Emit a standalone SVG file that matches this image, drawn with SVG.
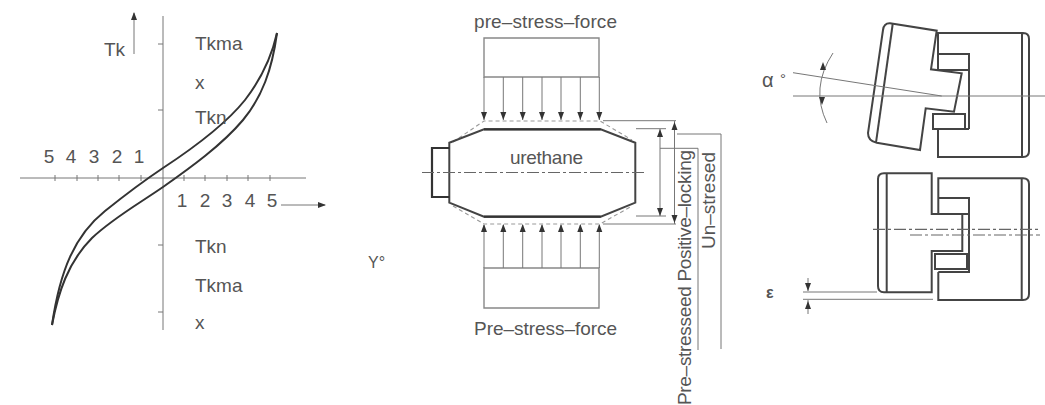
<svg xmlns="http://www.w3.org/2000/svg" width="1045" height="405" viewBox="0 0 1045 405">
<style>
text{font-family:"Liberation Sans",Arial,sans-serif;fill:#555;font-size:19px}
.thin{fill:none;stroke:#777;stroke-width:1}
.mid{fill:none;stroke:#888;stroke-width:1.4}
.curve{fill:none;stroke:#333;stroke-width:2}
.thick{fill:none;stroke:#333;stroke-width:2.2}
.body{fill:none;stroke:#444;stroke-width:2}
.dash{fill:none;stroke:#999;stroke-width:1.1;stroke-dasharray:4 3}
.cl{fill:none;stroke:#666;stroke-width:1.2;stroke-dasharray:12 3 3 3}
.arr{fill:#333;stroke:none}
</style>
<defs>
<marker id="a" markerWidth="8" markerHeight="6" refX="7" refY="3" orient="auto" markerUnits="userSpaceOnUse"><path d="M0 0L8 3L0 6Z" class="arr"/></marker>
</defs>
<g id="chart">
<path class="thin" d="M163 16V330M20 178H306"/>
<path class="thin" d="M158 44H163M158 110H163M158 245H163M158 312H163M55 175V181M77 175V181M98 175V181M119 175V181M141 175V181M184 175V181M205 175V181M227 175V181M248 175V181M270 175V181"/>
<path class="curve" d="M52 325C60 270 75 235 105 211C125 195 145 180 163 168C195 147 225 125 245 100C262 78 272 55 277 33"/>
<path class="curve" d="M52 325C58 293 68 262 92 238C113 218 140 203 163 187C190 168 222 145 243 120C262 97 272 70 277 33"/>
<path class="thin" d="M134 54V13" marker-end="url(#a)"/>
<path class="thin" d="M281 205H325" marker-end="url(#a)"/>
<text x="104" y="56">Tk</text>
<text x="195" y="50">Tkma</text>
<text x="195" y="89">x</text>
<text x="195" y="124">Tkn</text>
<text x="195" y="253">Tkn</text>
<text x="195" y="292">Tkma</text>
<text x="195" y="329">x</text>
<text x="49" y="163" text-anchor="middle">5</text><text x="71" y="163" text-anchor="middle">4</text><text x="94" y="163" text-anchor="middle">3</text><text x="117" y="163" text-anchor="middle">2</text><text x="139" y="163" text-anchor="middle">1</text>
<text x="182" y="207" text-anchor="middle">1</text><text x="205" y="207" text-anchor="middle">2</text><text x="227" y="207" text-anchor="middle">3</text><text x="250" y="207" text-anchor="middle">4</text><text x="272" y="207" text-anchor="middle">5</text>
<text x="368" y="268" style="font-size:16px">Y°</text>
</g>
<g id="urethane">
<path class="mid" d="M484 38H599V77H484ZM484 268H599V308H484Z"/>
<path class="thin" d="M484 77V120M503.3 77V120M522.7 77V120M542 77V120M561 77V120M580.3 77V120M599.3 77V120"/>
<path class="thin" d="M484 268V225M503.3 268V225M522.7 268V225M542 268V225M561 268V225M580.3 268V225M599.3 268V225"/>
<path class="arr" d="M481 112H487L484 120ZM500.3 112H506.3L503.3 120ZM519.7 112H525.7L522.7 120ZM539 112H545L542 120ZM558 112H564L561 120ZM577.3 112H583.3L580.3 120ZM596.3 112H602.3L599.3 120Z"/>
<path class="arr" d="M481 232H487L484 224ZM500.3 232H506.3L503.3 224ZM519.7 232H525.7L522.7 224ZM539 232H545L542 224ZM558 232H564L561 224ZM577.3 232H583.3L580.3 224ZM596.3 232H602.3L599.3 224Z"/>
<path class="dash" d="M453 142L484 121H600L632 140M453 206L484 224H600L632 206"/>
<path class="body" d="M449.3 142.7L484 129.3H600.7L635.3 142.7V202.7L600.7 216.7H484L449.3 202.7Z"/>
<path class="thick" d="M484 129.3H600.7M484 216.7H600.7"/>
<path class="thick" d="M449.3 148H432V197H449.3"/>
<path class="cl" d="M422 172.5H645"/>
<path class="thin" d="M603 120.7H676M603 224H676M674.5 121V224M636 128.7H666M636 216H666M660 129V216M660 148.3H698V350M677 134H721V349"/>
<path class="arr" d="M671.5 130L674.5 122L677.5 130ZM671.5 215L674.5 223L677.5 215ZM657 137L660 129L663 137ZM657 208L660 216L663 208Z"/>
<text x="474" y="28" textLength="143">pre–stress–force</text>
<text x="474" y="335" textLength="143">Pre–stress–force</text>
<text x="510" y="164" textLength="73">urethane</text>
<text transform="translate(691 405) rotate(-90)" textLength="255">Pre–stresseed Positive–locking</text>
<text transform="translate(715 249) rotate(-90)" textLength="97">Un–stresed</text>
</g>
<g id="coupling-tilted">
<path class="body" d="M938 54V33H1023Q1029 33 1029 39V151Q1029 157 1023 157H938V129M1022 33V157"/>
<path class="body" d="M938 54H969V129M938 54V70H969"/>
<path class="body" d="M933 114H965V129H933ZM965 129H969"/>
<path class="body" d="M890 23.3L936.7 30.7L931 69.3L961.7 73.3L954 111.7L925.7 108.3L920 150L876.7 142.7Q868 141 868 133L883 30Q884 23 890 23.3Z"/>
<path class="body" d="M892.7 24L876 142.7"/>
<path class="thin" d="M793 96H1045M793 72.7L941.7 96"/>
<path class="thin" d="M833 53Q810 88 827 123"/>
<path class="arr" d="M820 70L823 62L826 70ZM819 97L822 105L825 97Z"/>
<text x="762" y="87" style="font-size:20px">α</text>
<text x="780" y="84" style="font-size:15px">°</text>
</g>
<g id="coupling-straight">
<path class="body" d="M884 173.3H931.7V214H962.3V251H931.7V292.3H884Q878 292.3 878 286V179Q878 173.3 884 173.3ZM886.7 173.3V292.3"/>
<path class="body" d="M938.3 198V178.3H1023Q1029 178.3 1029 184V294Q1029 300 1023 300H938.3V272M1021.7 178.3V300"/>
<path class="body" d="M938.3 198H969V272H938.3M938.3 198V214H969M935 254H967V269H935Z"/>
<path class="cl" d="M873 229.3H1040M910 235H1040"/>
<path class="thin" d="M803 292H877M803 299.3H933M808 278V291M808 300V314"/>
<path class="arr" d="M805 283H811L808 291ZM805 309H811L808 301Z"/>
<text x="766" y="298" style="font-size:16px;font-weight:bold">ε</text>
</g>
</svg>
